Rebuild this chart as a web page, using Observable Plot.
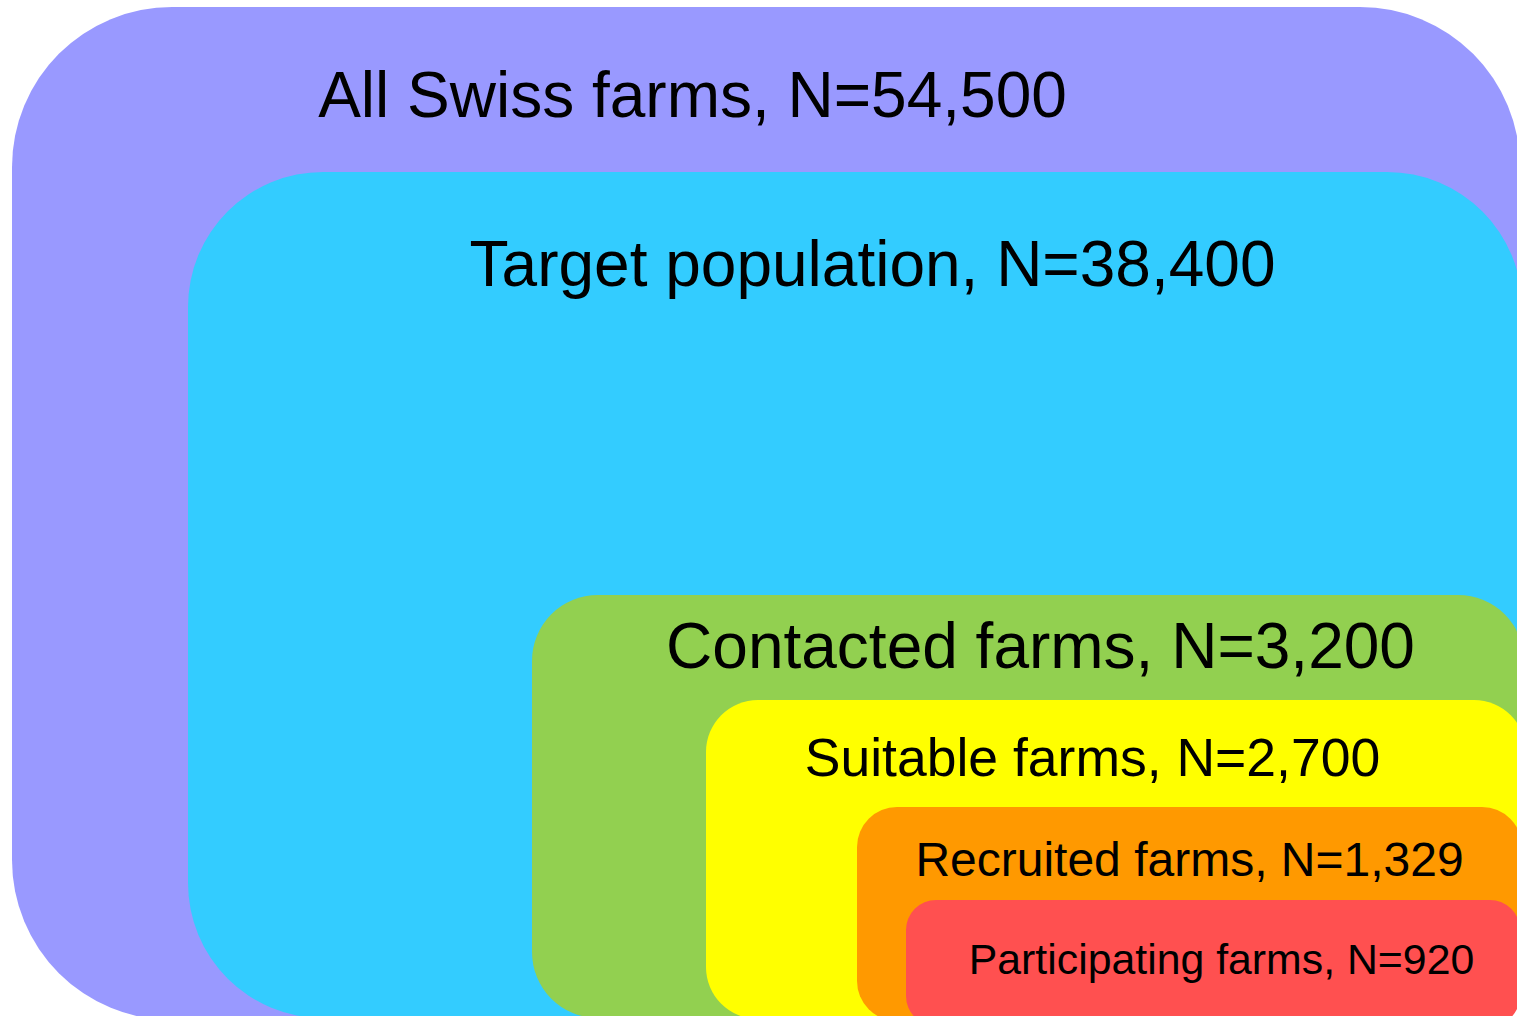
<!DOCTYPE html>
<html>
<head>
<meta charset="utf-8">
<script src="https://cdn.jsdelivr.net/npm/d3@7"></script>
<script src="https://cdn.jsdelivr.net/npm/@observablehq/plot@0.6"></script>
<style>
  html, body { margin: 0; padding: 0; background: #ffffff; }
  #chart svg { display: block; }
</style>
</head>
<body>
<div id="chart"></div>
<script>
// Stages of the sampling funnel (nested sets)
const stages = ["All Swiss farms", "Target population", "Contacted farms", "Suitable farms", "Recruited farms", "Participating farms"];
const counts = [54500, 38400, 3200, 2700, 1329, 920];

// Layout of each nested box in diagram units (left, top, right, bottom)
const boxLeft   = [12, 188, 532, 706, 857, 906];
const boxTop    = [7, 172, 595, 700, 807, 900];
const boxRight  = [1520, 1522, 1524, 1526, 1522, 1520];
const boxBottom = [1020, 1018, 1018, 1019, 1021, 1026];

// Label anchors (centre x, baseline y)
const labelX = [692, 872, 1040, 1092, 1189, 1221];
const labelY = [116, 285, 667, 775, 875, 973];

// Styles
const fills = ["#9999FF", "#33CCFF", "#92D050", "#FFFF00", "#FF9900", "#FF5050"];
const radii = [160, 135, 66, 52, 40, 30];
const fontSizes = [64, 64, 64, 53.5, 48, 42.8];

const fmt = d3.format(",");
const data = stages.map((s, i) => ({
  i, stage: s, n: counts[i],
  label: `${s}, N=${fmt(counts[i])}`,
  x1: boxLeft[i], x2: boxRight[i], y1: boxTop[i], y2: boxBottom[i],
  lx: labelX[i], ly: labelY[i]
}));

const W = 1517, H = 1016;
const marks = [];
data.forEach((d, i) => {
  marks.push(Plot.rect([d], {
    x1: "x1", x2: "x2", y1: "y1", y2: "y2",
    fill: fills[i], rx: radii[i], inset: 0, clip: true
  }));
});
data.forEach((d, i) => {
  marks.push(Plot.text([d], {
    x: "lx", y: "ly", text: "label",
    fontSize: fontSizes[i], fill: "#000000",
    textAnchor: "middle", lineAnchor: "bottom",
    fontFamily: "'Liberation Sans', Arial, sans-serif"
  }));
});

const chart = Plot.plot({
  width: W, height: H,
  margin: 0,
  x: { domain: [0, W], range: [0, W], axis: null },
  y: { domain: [0, H], range: [0, H], axis: null },
  style: { background: "#ffffff", fontFamily: "'Liberation Sans', Arial, sans-serif" },
  marks
});
document.getElementById("chart").appendChild(chart);
</script>
</body>
</html>
